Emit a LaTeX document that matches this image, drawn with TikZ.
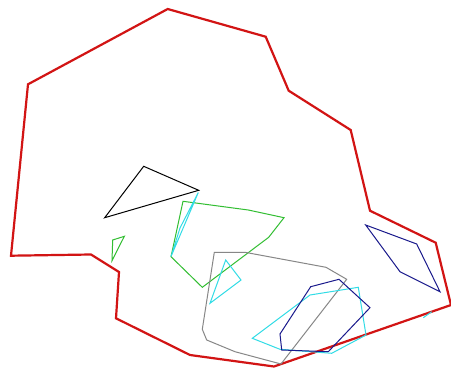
\documentclass[tikz,border=0pt]{standalone}
\definecolor{rd}{RGB}{210,20,20}
\definecolor{gn}{RGB}{50,190,50}
\definecolor{cy}{RGB}{50,220,230}
\definecolor{nv}{RGB}{25,25,140}
\definecolor{gy}{RGB}{135,135,135}
\tikzset{
  outline/.style={draw=rd,line width=2.2pt,line join=miter},
  thin/.style={line width=1pt,line join=miter}
}
\begin{document}
\begin{tikzpicture}[x=1pt,y=-1pt]
\useasboundingbox (0,0) rectangle (451,370);
\fill[white] (0,0) rectangle (451,370);
% red outline
\draw[outline] (167.7,9) -- (265.7,36.7) -- (288.7,90.7) -- (350.7,130) -- (370,210.7) -- (435.7,242.7) -- (451,305) -- (274,366.5) -- (190,355) -- (116,318.3) -- (119,272) -- (91,254.5) -- (11,255.7) -- (28,84.3) -- cycle;
% black triangle
\draw[thin,black] (143.7,166.3) -- (198.7,190.3) -- (104.7,217.7) -- cycle;
% green small triangle
\draw[thin,gn] (112.7,240) -- (124.3,236.3) -- (112,260.7) -- cycle;
% green polygon
\draw[thin,gn] (183,201.3) -- (248.3,210) -- (284,217.7) -- (268.7,237.3) -- (202.3,287.3) -- (171,256.7) -- cycle;
% cyan sliver
\draw[thin,cy] (198.3,192.5) -- (171,256.5) -- (180,228) -- cycle;
% gray polygon
\draw[thin,gy] (214.3,252.3) -- (245,252.3) -- (326,267.3) -- (346.7,279.3) -- (281,364) -- (235,351.7) -- (206.7,340) -- (202.3,329.3) -- cycle;
% cyan small triangle
\draw[thin,cy] (225.7,260) -- (241,280) -- (210,303.3) -- cycle;
% cyan polygon
\draw[thin,cy] (310,295) -- (358.3,287.3) -- (366,335) -- (331.7,353.3) -- (280,349.3) -- (252.3,338.3) -- cycle;
% navy polygon
\draw[thin,nv] (310.7,286.7) -- (339,279.3) -- (370,307.7) -- (328.3,351.7) -- (281.7,350) -- (280,334) -- cycle;
% navy diamond
\draw[thin,nv] (365.7,225) -- (416.7,244) -- (440,291.7) -- (400,271.7) -- cycle;
% cyan segment
\draw[thin,cy] (423.3,317.7) -- (431.7,311.7);
\end{tikzpicture}
\end{document}
